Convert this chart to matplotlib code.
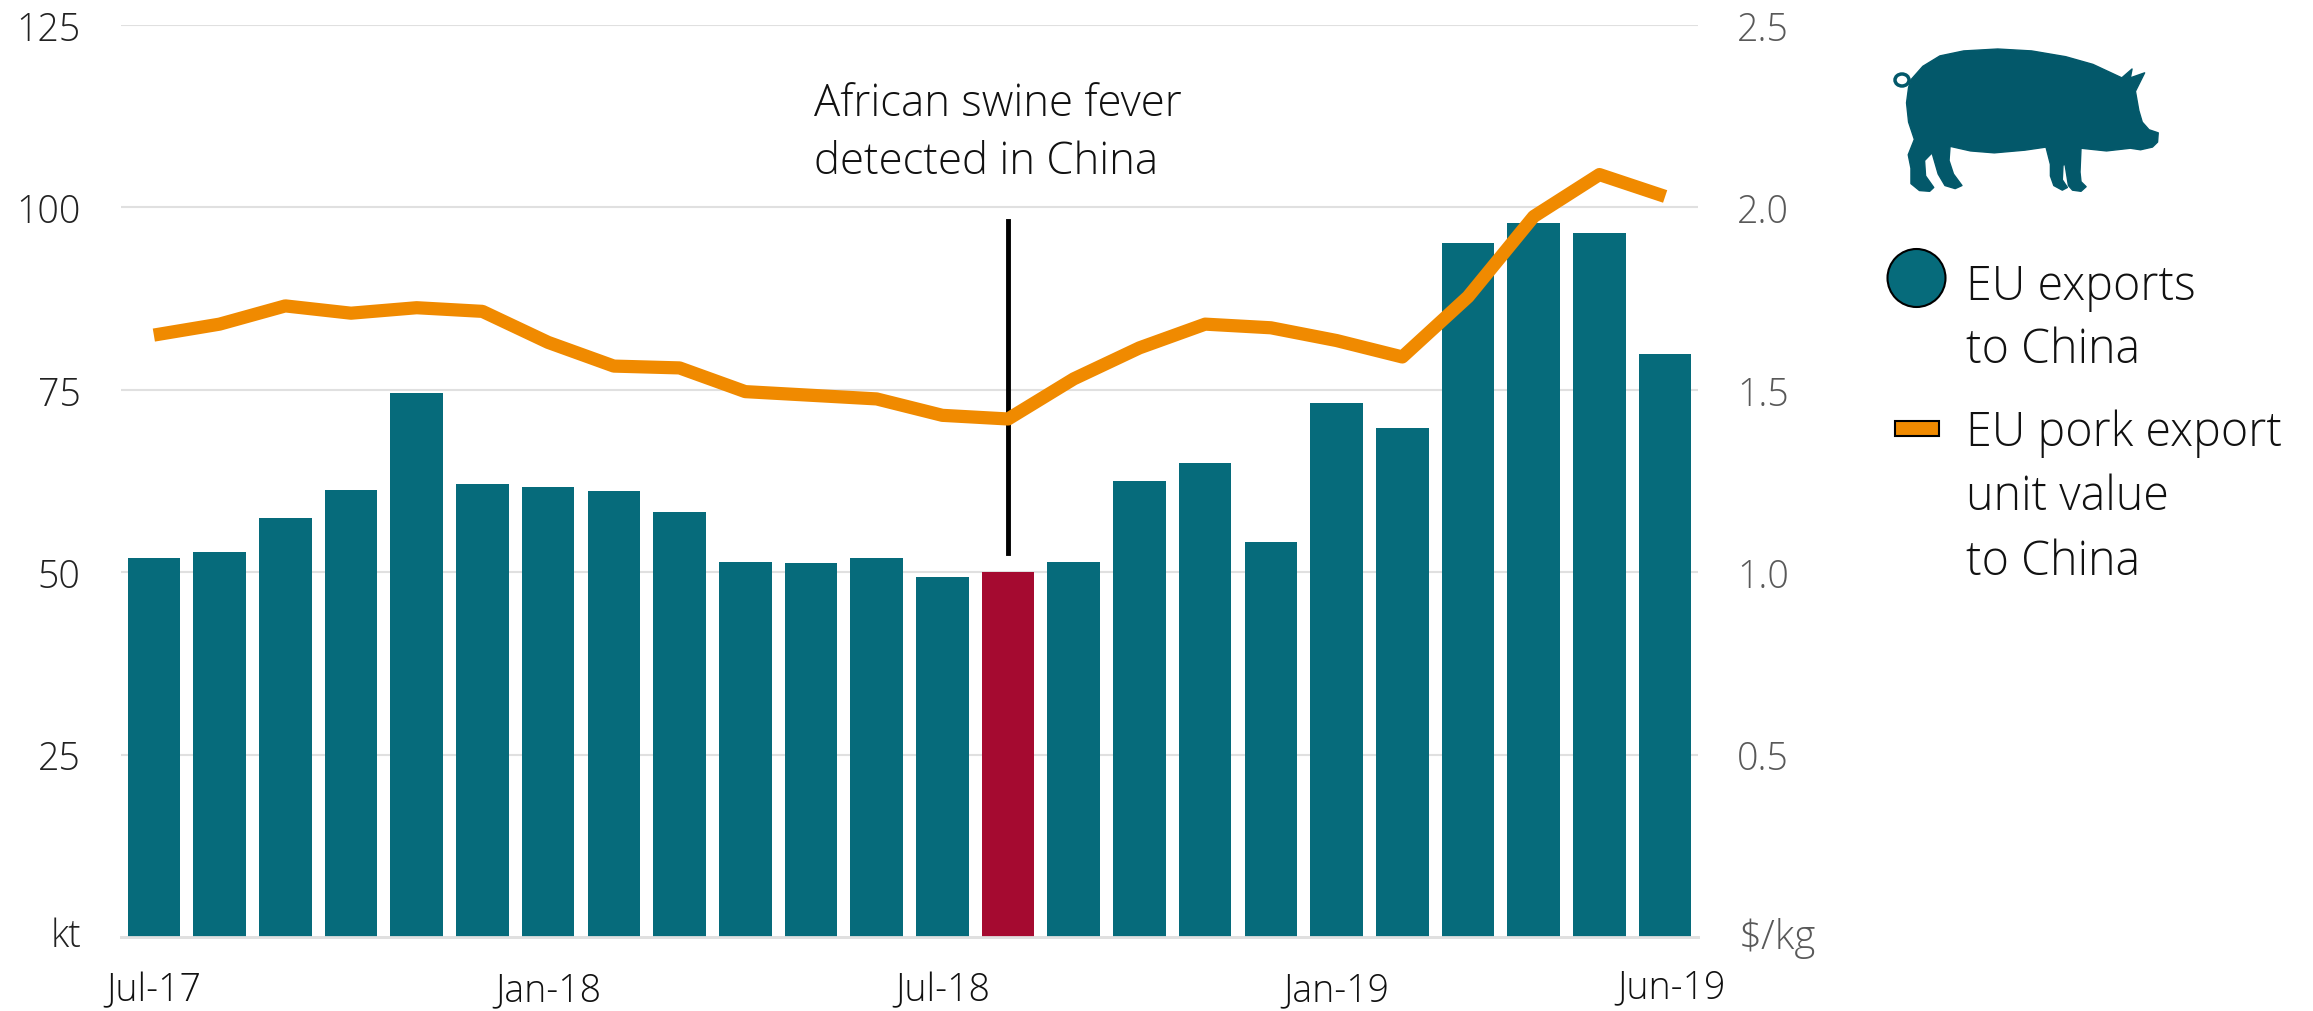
"""
EU pork exports to China (bars, kt) and export unit value (line, $/kg).
"""

import matplotlib
matplotlib.use('Agg')
import matplotlib.pyplot as plt
from matplotlib.patches import Ellipse, Polygon, Rectangle

plt.rcParams['font.family'] = ['Open Sans', 'DejaVu Sans']

W, H = 2313, 1012

exports = [52.0, 52.8, 57.4, 61.3, 74.6, 62.1, 61.7, 61.1, 58.3, 51.4, 51.3, 52.0,
           49.4, 50.0, 51.4, 62.5, 65.0, 54.2, 73.2, 69.8, 95.1, 97.9, 96.5, 79.9]
unit_value = [1.65, 1.68, 1.73, 1.71, 1.725, 1.715, 1.63, 1.565, 1.56, 1.495, 1.485, 1.475,
              1.43, 1.42, 1.53, 1.615, 1.68, 1.67, 1.635, 1.59, 1.755, 1.975, 2.09, 2.03]
left_ticks = [25, 50, 75, 100, 125]
right_ticks = [0.5, 1.0, 1.5, 2.0, 2.5]
date_idx = [0, 6, 12, 18]
date_labels = ['Jul-17', 'Jan-18', 'Jul-18', 'Jan-19']
event_idx = 13

TEAL = '#066B7B'
RED = '#A50A30'
ORANGE = '#F08A00'
DARK_TEAL = '#03586A'
GREY = '#595959'
GRID = '#E0E0E0'

# pig outline, traced from the icon (pixels of the 3x crop)
pig_x = [385, 420, 470, 540, 640, 740, 840, 920, 1005, 1035, 1030, 1072, 1045, 1055, 1065, 1085,
         1112, 1110, 1095, 1060, 1030, 960, 885, 882, 885, 900, 885, 860, 848, 838, 832, 830,
         845, 830, 805, 795, 795, 782, 720, 630, 560, 500, 497, 510, 535, 515, 485, 465, 447,
         425, 428, 452, 440, 410, 385, 385, 377, 395, 378, 372, 378]
pig_y = [210, 175, 148, 135, 130, 135, 150, 170, 205, 182, 205, 192, 240, 290, 320, 340,
         348, 372, 385, 392, 388, 395, 388, 450, 475, 488, 500, 497, 485, 430, 432, 470,
         490, 497, 485, 460, 430, 385, 393, 400, 395, 383, 420, 455, 485, 493, 485, 455, 400,
         420, 460, 490, 500, 498, 480, 440, 405, 365, 320, 270, 230]

fig = plt.figure(figsize=(W / 100, H / 100), dpi=100, facecolor='white')
ax = fig.add_axes([121 / W, 1 - 938 / H, (1698 - 121) / W, (938 - 26) / H])
ax2 = ax.twinx()

colors = [RED if i == event_idx else TEAL for i in range(len(exports))]
ax.bar(range(len(exports)), exports, width=0.8, color=colors, zorder=3)
ax.plot([event_idx, event_idx], [52.6, 98.2], color='black', lw=3.5, zorder=5)
ax2.plot(range(len(unit_value)), unit_value, color=ORANGE, lw=9.5, solid_joinstyle='round',
         solid_capstyle='butt', zorder=6)
ax.set_zorder(1)
ax2.set_zorder(2)
ax2.patch.set_visible(False)

ax.set_xlim(-0.5, 23.5)
ax.set_ylim(0, 125)
ax2.set_ylim(0, 2.5)
ax.set_yticks(left_ticks)
ax2.set_yticks(right_ticks)
ax2.set_yticklabels([f'{v:.1f}' for v in right_ticks])
ax.grid(axis='y', color=GRID, lw=1.5, zorder=0)
ax.set_xticks(date_idx)
ax.set_xticklabels(date_labels)
ax.tick_params(axis='x', length=0, pad=24, labelsize=27, labelcolor='#111111')
ax.tick_params(axis='y', length=0, pad=29, labelsize=27, labelcolor='#222222')
ax2.tick_params(axis='y', length=0, pad=28, labelsize=27, labelcolor=GREY)
for lab in ax.get_xticklabels() + ax.get_yticklabels() + ax2.get_yticklabels():
    lab.set_fontweight('light')
for a in (ax, ax2):
    for side in ('top', 'left', 'right'):
        a.spines[side].set_visible(False)
    a.spines['bottom'].set_color(GRID)
    a.spines['bottom'].set_linewidth(2)

# overlay in image pixels for icon, legend and loose labels
ov = fig.add_axes([0, 0, 1, 1])
ov.set_xlim(0, W)
ov.set_ylim(H, 0)
ov.axis('off')
ov.set_zorder(3)

ov.text(66, 937, 'kt', fontsize=27, fontweight='light', ha='center', va='center', color='#222222')
ov.text(1739, 939, '$/kg', fontsize=29, fontweight='light', ha='left', va='center',
        color=GREY, parse_math=False)
ov.text(1671, 988, 'Jun-19', fontsize=27, fontweight='light', ha='center', va='center',
        color='#111111')
ov.text(814, 105, 'African swine fever', fontsize=31.5, fontweight='light', va='center', color='#111111')
ov.text(814, 163, 'detected in China', fontsize=31.5, fontweight='light', va='center', color='#111111')

pts = [(1780 + x / 2.94, y / 2.6) for x, y in zip(pig_x, pig_y)]
ov.add_patch(Polygon(pts, closed=True, facecolor=DARK_TEAL, edgecolor=DARK_TEAL, lw=1, joinstyle='round'))
ov.add_patch(Ellipse((1902, 81), 14, 12, facecolor='none', edgecolor=DARK_TEAL, lw=2.5))

ov.add_patch(Ellipse((1916.5, 279), 58, 58, facecolor=TEAL, edgecolor='black', lw=1.5))
ov.add_patch(Rectangle((1895, 422), 43.5, 15, facecolor=ORANGE, edgecolor='black', lw=1.5))
for text, base in [('EU exports', 300), ('to China', 363), ('EU pork export', 446),
                   ('unit value', 510), ('to China', 575)]:
    ov.text(1966, base, text, fontsize=33.5, fontweight='light', ha='left', va='baseline', color='#111111')

fig.savefig('out.png', dpi=100, facecolor='white')
plt.close()
